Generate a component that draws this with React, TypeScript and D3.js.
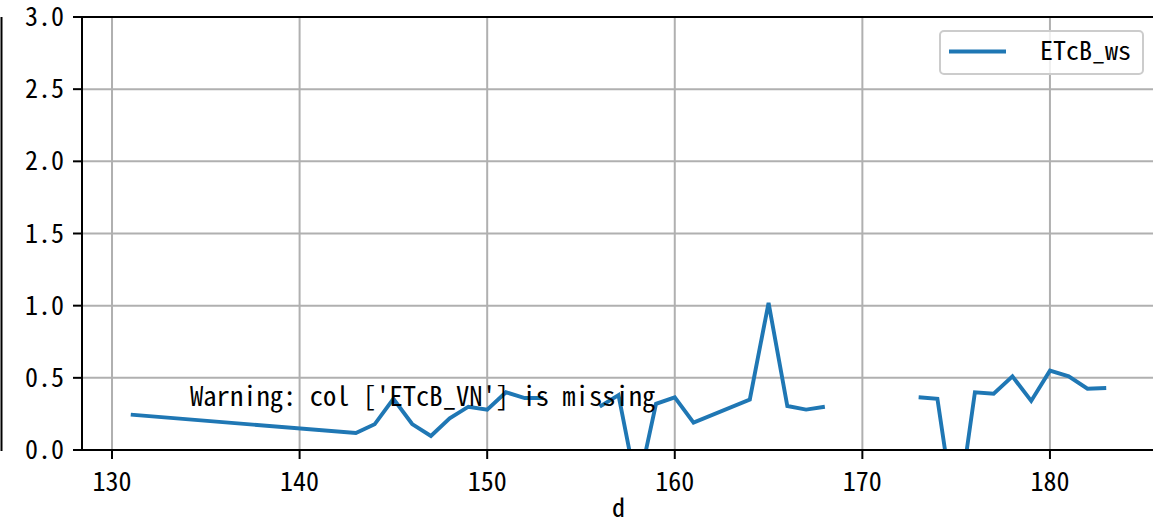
import React from "react";
import * as d3 from "d3";

const days: number[] = [131, 143, 144, 145, 146, 147, 148, 149, 150, 151, 152, 153, 154, 155, 156, 157, 158, 159, 160, 161, 164, 165, 166, 167, 168, 169, 170, 171, 172, 173, 174, 175, 176, 177, 178, 179, 180, 181, 182, 183];
const etcbWs: number[] = [0.245, 0.118, 0.178, 0.355, 0.18, 0.097, 0.22, 0.3, 0.28, 0.4, 0.36, 0.36, NaN, NaN, 0.3, 0.38, -0.28, 0.32, 0.365, 0.19, 0.35, 1.02, 0.305, 0.28, 0.3, NaN, NaN, NaN, NaN, 0.365, 0.355, -0.52, 0.4, 0.39, 0.51, 0.34, 0.55, 0.51, 0.425, 0.43];
const xTicks: number[] = [130, 140, 150, 160, 170, 180];
const yTicks: number[] = [0, 0.5, 1, 1.5, 2, 2.5, 3];
const seriesName = " ETcB_ws";
const warningText = "Warning: col ['ETcB_VN'] is missing";
const xLabel = "d";

const W = 1153;
const H = 520;
const left = 82;
const right = 1155;
const top = 17;
const bottom = 450;
const FONT = "'Noto Sans Mono CJK SC', 'DejaVu Sans Mono', monospace";
const FS = 26;

export default function App() {
  const xMin = d3.min(days)!;
  const xMax = d3.max(days)!;
  const pad = (xMax - xMin) * 0.05;
  const x = d3.scaleLinear().domain([xMin - pad, xMax + pad]).range([left, right]);
  const y = d3.scaleLinear().domain([0, 3]).range([bottom, top]);
  const pts = days.map((d, i) => [d, etcbWs[i]] as [number, number]);
  const line = d3
    .line<[number, number]>()
    .defined((p) => !isNaN(p[1]))
    .x((p) => x(p[0]))
    .y((p) => y(p[1]));
  const grid = "#b0b0b0";
  const blue = "#1f77b4";
  return (
    <svg width={W} height={H} style={{ position: "absolute", left: 0, top: 0, background: "#fff" }} fontFamily={FONT}>
      <defs>
        <clipPath id="plot">
          <rect x={left} y={top} width={right - left} height={bottom - top} />
        </clipPath>
      </defs>
      <rect x={0} y={0} width={W} height={H} fill="#fff" />
      {xTicks.map((t) => (
        <line key={"gx" + t} x1={x(t)} x2={x(t)} y1={top} y2={bottom} stroke={grid} strokeWidth={2} />
      ))}
      {yTicks.map((t) => (
        <line key={"gy" + t} x1={left} x2={right} y1={y(t)} y2={y(t)} stroke={grid} strokeWidth={2} />
      ))}
      <path d={line(pts) || ""} fill="none" stroke={blue} strokeWidth={3.9} strokeLinejoin="miter" clipPath="url(#plot)" />
      <text x={190} y={406} fontSize={26.6} fill="#000">{warningText}</text>
      {/* spines */}
      <line x1={left} x2={left} y1={top} y2={bottom + 1} stroke="#000" strokeWidth={2} />
      <line x1={left - 1} x2={right} y1={bottom} y2={bottom} stroke="#000" strokeWidth={2} />
      <line x1={left - 1} x2={right} y1={top} y2={top} stroke="#000" strokeWidth={2} />
      <line x1={right} x2={right} y1={top} y2={bottom} stroke="#000" strokeWidth={2} />
      <line x1={1.5} x2={1.5} y1={top} y2={bottom + 1} stroke="#000" strokeWidth={2} />
      {xTicks.map((t) => (
        <g key={"tx" + t}>
          <line x1={x(t)} x2={x(t)} y1={bottom} y2={bottom + 9} stroke="#000" strokeWidth={2} />
          <text x={x(t)} y={491} textAnchor="middle" fontSize={FS} fill="#000">{String(t)}</text>
        </g>
      ))}
      {yTicks.map((t) => (
        <g key={"ty" + t}>
          <line x1={left - 9} x2={left} y1={y(t)} y2={y(t)} stroke="#000" strokeWidth={2} />
          <text x={64} y={y(t) + 9} textAnchor="end" fontSize={FS} fill="#000">{t.toFixed(1)}</text>
        </g>
      ))}
      <text x={(left + right) / 2} y={517} textAnchor="middle" fontSize={FS} fill="#000">{xLabel}</text>
      {/* legend */}
      <rect x={940} y={31} width={203} height={43} rx={4} fill="#fff" fillOpacity={0.8} stroke="#cccccc" strokeWidth={2} />
      <line x1={949} x2={1006} y1={51.5} y2={51.5} stroke={blue} strokeWidth={3.9} />
      <text x={1027} y={60} fontSize={FS} fill="#000" xmlSpace="preserve" style={{ whiteSpace: "pre" }}>{seriesName}</text>
    </svg>
  );
}
